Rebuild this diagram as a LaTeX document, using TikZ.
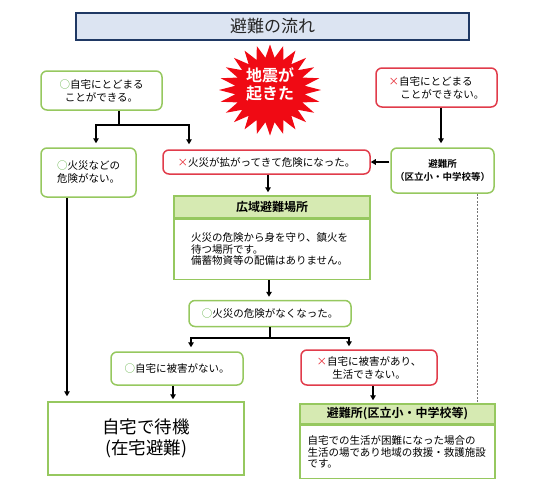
\documentclass[tikz,border=0pt]{standalone}
\usepackage{fontspec}
\setmainfont{Noto Sans CJK JP}[BoldFont={Noto Sans CJK JP Bold}]
\usetikzlibrary{arrows.meta}
\definecolor{gb}{RGB}{150,200,95}
\definecolor{rb}{RGB}{225,60,75}
\definecolor{gsym}{RGB}{90,175,60}
\definecolor{rsym}{RGB}{230,40,50}
\definecolor{hfill}{RGB}{214,234,178}
\definecolor{tfill}{RGB}{220,228,242}
\definecolor{navy}{RGB}{31,56,100}
\definecolor{burst}{RGB}{240,10,20}
\newcommand{\okmark}{{\color{gsym}○}}
\newcommand{\ngmark}{{\color{rsym}×}}
\begin{document}
\begin{tikzpicture}[x=1pt,y=-1pt,
  base/.style={line width=1.5pt, fill=white, align=center, inner sep=0pt, font=\fontsize{10.5}{13}\selectfont},
  gbox/.style={base, draw=gb, rounded corners=6pt},
  rbox/.style={base, draw=rb, rounded corners=6pt},
  sqbox/.style={base, draw=gb},
  headbox/.style={base, draw=gb, fill=hfill, font=\bfseries\fontsize{12}{13}\selectfont},
  bodybox/.style={base, draw=gb, align=left, font=\fontsize{10.5}{11.5}\selectfont},
  arr/.style={-{Triangle[length=5pt,width=5.5pt]}, line width=1.8pt},
  bar/.style={line width=1.8pt},
  guide/.style={draw=gray!90!black, line width=0.6pt, dash pattern=on 2pt off 1.5pt}
]
\useasboundingbox (0,0) rectangle (538,480);

% title
\node[draw=navy, line width=2pt, fill=tfill, minimum width=393pt, minimum height=27pt,
  inner sep=0pt, font=\fontsize{17}{19}\selectfont, text=black!85] (title) at (272.5,26.5) {避難の流れ};

% starburst
\fill[burst] (321,90) \foreach \k in {1,...,47}{
  -- ({270+(43+8*cos(180*\k))*cos(7.5*\k)}, {90+(39+6.5*cos(180*\k))*sin(7.5*\k)}) } -- cycle;
\node[font=\bfseries\fontsize{16}{18}\selectfont, text=white, align=center, inner sep=0pt] (quake) at (270,84) {地震が\\起きた};

% top row
\node[gbox, minimum width=121pt, minimum height=39pt] (A) at (101.5,90.5) {\okmark 自宅にとどまる\\ことができる。};
\node[rbox, minimum width=121pt, minimum height=39pt, align=left] (B) at (436.5,87.5) {\ngmark 自宅にとどまる\\\hspace*{1.1em}ことができない。};

% second row
\node[gbox, minimum width=95pt, minimum height=49pt] (C) at (88.5,172.5) {\okmark 火災などの\\危険がない。};
\node[rbox, minimum width=207pt, minimum height=24pt] (D) at (266.5,162) {\ngmark 火災が拡がってきて危険になった。};
\node[gbox, minimum width=103pt, minimum height=45pt, font=\bfseries\fontsize{9.5}{13}\selectfont] (E) at (442.5,170.5) {避難所\\（区立小・中学校等）};

% wide-area evacuation site
\node[headbox, minimum width=196pt, minimum height=22pt] (fhead) at (272,207) {広域避難場所};
\node[bodybox, minimum width=196pt, minimum height=60pt, text width=162pt, anchor=north] (fbody) at (fhead.south) {火災の危険から身を守り、鎮火を\\待つ場所です。\\備蓄物資等の配備はありません。\\[2pt]};

\node[gbox, minimum width=162pt, minimum height=26pt] (G) at (270,313.5) {\okmark 火災の危険がなくなった。};

\node[gbox, minimum width=132pt, minimum height=33pt] (H) at (177,368.5) {\okmark 自宅に被害がない。};
\node[rbox, minimum width=136pt, minimum height=35pt] (I) at (369,367.5) {\ngmark 自宅に被害があり、\\生活できない。};

\node[sqbox, minimum width=196pt, minimum height=73pt, font=\fontsize{17.5}{21.5}\selectfont] (J) at (146,438.5) {自宅で待機\\(在宅避難)};

\node[headbox, minimum width=195pt, minimum height=20pt] (khead) at (397.5,414) {避難所(区立小・中学校等)};
\node[bodybox, minimum width=195pt, minimum height=53pt, text width=180pt, anchor=north] (kbody) at (khead.south) {自宅での生活が困難になった場合の\\生活の場であり地域の救援・救護施設\\です。\\[3pt]};

% connectors
\coordinate (j1) at (119,125);
\draw[bar] ([xshift=17.5pt]A.south) -- (j1);
\draw[arr, shorten >=4pt] (j1) -| ([xshift=7.5pt]C.north);
\draw[arr, shorten >=5pt] (j1) -| ([xshift=-77.5pt]D.north);
\draw[arr, shorten >=4pt] ([xshift=4.5pt]B.south) -- ([xshift=4.5pt]B.south |- E.north);
\draw[arr, shorten <=1pt] (E.west |- D.east) -- (D.east);
\draw[guide] ([xshift=34.5pt]E.south) -- ([xshift=34.5pt]E.south |- khead.north);
\draw[arr, shorten >=3pt] ([xshift=1.5pt]D.south) -- ([xshift=1.5pt]D.south |- fhead.north);
\draw[arr, shorten >=3pt] ([xshift=-3pt]fbody.south) -- ([xshift=-3pt]fbody.south |- G.north);
\coordinate (j2) at (270,338);
\draw[bar] (G.south) -- (j2);
\draw[arr, shorten >=4pt] (j2) -| ([xshift=14pt]H.north);
\draw[arr, shorten >=3pt] (j2) -| ([xshift=-20pt]I.north);
\draw[arr, shorten >=5pt] ([xshift=-21.5pt]C.south) -- ([xshift=-21.5pt]C.south |- J.north);
\draw[arr, shorten >=2pt] ([xshift=-4pt]H.south) -- ([xshift=-4pt]H.south |- J.north);
\draw[arr, shorten >=3pt] ([xshift=4pt]I.south) -- ([xshift=4pt]I.south |- khead.north);
\end{tikzpicture}
\end{document}
